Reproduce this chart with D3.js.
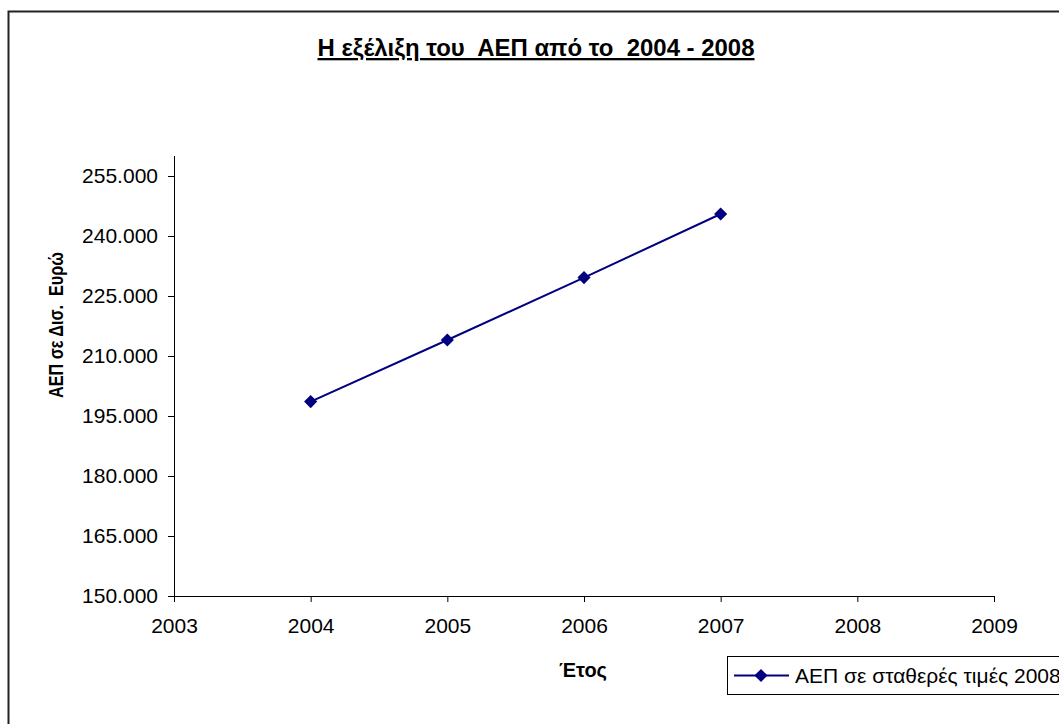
<!DOCTYPE html>
<html>
<head>
<meta charset="utf-8">
<script src="https://cdn.jsdelivr.net/npm/d3@7"></script>
<style>
  body { margin: 0; background: #fff; }
  svg { display: block; font-family: "Liberation Sans", Arial, sans-serif; }
</style>
</head>
<body>
<svg width="1059" height="724"></svg>
<script>
// data
var years = [2004, 2005, 2006, 2007];
var gdp = [198600, 214000, 229600, 245500];
var yTicks = [150000, 165000, 180000, 195000, 210000, 225000, 240000, 255000];
var xTicks = [2003, 2004, 2005, 2006, 2007, 2008, 2009];
var seriesName = "ΑΕΠ σε σταθερές τιμές 2008";
var title = "Η εξέλιξη του  ΑΕΠ από το  2004 - 2008";

var svg = d3.select("svg");
var margin = {left: 174, right: 65, top: 156, bottom: 128},
    width = 1059, height = 724;

// greek style number format 255.000
var locale = d3.formatLocale({decimal: ",", thousands: ".", grouping: [3], currency: ["", "€"]});
var fmt = locale.format(",.0f");

var x = d3.scaleLinear().domain([2003, 2009]).range([margin.left, width - margin.right]);
var y = d3.scaleLinear().domain([150000, 255000]).range([height - margin.bottom, 176]);

// outer frame, runs off the right and bottom edge
svg.append("rect")
  .attr("x", 8.5).attr("y", 11.5)
  .attr("width", 1200).attr("height", 900)
  .attr("fill", "none").attr("stroke", "#222").attr("stroke-width", 2);

// title
svg.append("text")
  .attr("x", 536).attr("y", 56)
  .attr("text-anchor", "middle")
  .attr("font-size", 23).attr("font-weight", "bold")
  .attr("text-decoration", "underline")
  .attr("textLength", 437).attr("lengthAdjust", "spacingAndGlyphs")
  .style("white-space", "pre")
  .text(title);

// y axis
var yAxis = svg.append("g")
  .attr("transform", "translate(" + margin.left + ",0)")
  .call(d3.axisLeft(y).tickValues(yTicks).tickFormat(fmt).tickSize(6).tickPadding(10));
yAxis.select(".domain").attr("d", "M0.5," + 156 + "V" + (y(150000) + 0.5));
yAxis.selectAll("text").attr("font-size", 21).attr("font-family", "Liberation Sans, Arial").attr("fill", "#000");

// x axis
var xAxis = svg.append("g")
  .attr("transform", "translate(0," + y(150000) + ")")
  .call(d3.axisBottom(x).tickValues(xTicks).tickFormat(d3.format("d")).tickSize(6).tickPadding(16));
xAxis.selectAll("text").attr("font-size", 21).attr("font-family", "Liberation Sans, Arial").attr("fill", "#000");
xAxis.select(".domain").attr("d", "M" + (margin.left + 0.5) + ",0.5H" + (width - margin.right + 0.5) + "V6");

// axis titles
svg.append("text")
  .attr("transform", "translate(63,325) rotate(-90)")
  .attr("text-anchor", "middle")
  .attr("font-size", 21).attr("font-weight", "bold")
  .attr("textLength", 146).attr("lengthAdjust", "spacingAndGlyphs")
  .style("white-space", "pre")
  .text("ΑΕΠ σε Δισ.  Ευρώ");

svg.append("text")
  .attr("x", 583).attr("y", 677)
  .attr("text-anchor", "middle")
  .attr("font-size", 20).attr("font-weight", "bold")
  .text("Έτος");

// series line
var data = years.map(function (d, i) { return {year: d, value: gdp[i]}; });
var line = d3.line()
  .x(function (d) { return x(d.year); })
  .y(function (d) { return y(d.value); });

svg.append("path")
  .datum(data)
  .attr("d", line)
  .attr("fill", "none")
  .attr("stroke", "#000080")
  .attr("stroke-width", 2);

var diamond = d3.symbol().type(d3.symbolDiamond2).size(110);
svg.selectAll(".pt")
  .data(data)
  .enter()
  .append("path")
  .attr("class", "pt")
  .attr("transform", function (d) { return "translate(" + x(d.year) + "," + y(d.value) + ")"; })
  .attr("d", diamond)
  .attr("fill", "#000080");

// legend (box runs off the right edge like the original)
var lg = svg.append("g").attr("transform", "translate(727,656)");
lg.append("rect")
  .attr("x", 0.5).attr("y", 0.5)
  .attr("width", 400).attr("height", 38)
  .attr("fill", "#fff").attr("stroke", "#000").attr("stroke-width", 1);
lg.append("line")
  .attr("x1", 7).attr("x2", 62).attr("y1", 19.5).attr("y2", 19.5)
  .attr("stroke", "#000080").attr("stroke-width", 2);
lg.append("path")
  .attr("transform", "translate(34,19.5)")
  .attr("d", diamond)
  .attr("fill", "#000080");
lg.append("text")
  .attr("x", 68).attr("y", 27)
  .attr("font-size", 21)
  .text(seriesName);
</script>
</body>
</html>
